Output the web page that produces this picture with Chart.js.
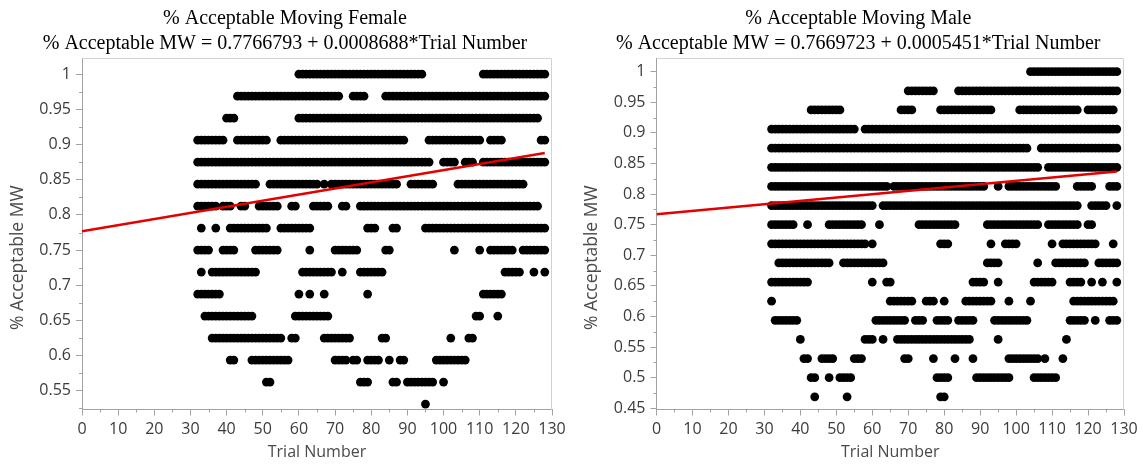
<!DOCTYPE html>
<html lang="en">
<head>
<meta charset="UTF-8">
<title>% Acceptable Moving</title>
<script src="https://cdn.jsdelivr.net/npm/chart.js"></script>
<style>
  html, body { margin: 0; padding: 0; background: #fff; }
  body { width: 1143px; height: 465px; position: relative; overflow: hidden; }
  canvas { position: absolute; top: 0; }
  #femaleChart { left: 0; }
  #maleChart { left: 574px; }
</style>
</head>
<body>
<canvas id="femaleChart" width="570" height="465"></canvas>
<canvas id="maleChart" width="569" height="465"></canvas>

<script>
// Axis ticks
const xTicks = [0, 10, 20, 30, 40, 50, 60, 70, 80, 90, 100, 110, 120, 130];
const femaleYTicks = [0.55, 0.6, 0.65, 0.7, 0.75, 0.8, 0.85, 0.9, 0.95, 1];
const maleYTicks = [0.45, 0.5, 0.55, 0.6, 0.65, 0.7, 0.75, 0.8, 0.85, 0.9, 0.95, 1];

// Fitted lines (from the JMP output)
const femaleFit = { intercept: 0.7766793, slope: 0.0008688 };
const maleFit = { intercept: 0.7669723, slope: 0.0005451 };
const fitRange = [0, 128];

// Female: observed % acceptable levels and the trials where each level occurs
const femaleLevels = [1, 0.96875, 0.9375, 0.90625, 0.875, 0.84375, 0.8125, 0.78125,
  0.75, 0.71875, 0.6875, 0.65625, 0.625, 0.59375, 0.5625, 0.53125];
const femaleTrials = [
  [60,61,62,63,64,65,66,67,68,69,70,71,72,73,74,75,76,77,78,79,80,81,82,83,84,85,86,87,88,89,90,91,92,93,94,
   111,112,113,114,115,116,117,118,119,120,121,122,123,124,125,126,127,128],
  [43,44,45,46,47,48,49,50,51,52,53,54,55,56,57,58,59,60,61,62,63,64,65,66,67,68,69,70,71,
   75,76,77,78,
   84,85,86,87,88,89,90,91,92,93,94,95,96,97,98,99,100,101,102,103,104,105,106,107,108,109,110,
   111,112,113,114,115,116,117,118,119,120,121,122,123,124,125,126,127,128],
  [40,41,42,
   60,61,62,63,64,65,66,67,68,69,70,71,72,73,74,75,76,77,78,79,80,81,82,83,84,85,86,87,88,89,90,91,92,93,
   94,95,96,97,98,99,100,101,102,103,104,105,106,107,108,109,110,111,112,113,114,115,116,117,118,119,120,
   121,122,123,124,125,126],
  [32,33,34,35,36,37,38,39,
   43,44,45,46,47,48,49,50,51,
   55,56,57,58,59,60,61,62,63,64,65,66,67,68,69,70,71,72,73,74,75,76,77,78,79,80,81,82,83,84,85,86,87,88,89,
   96,97,98,99,100,101,102,103,104,105,106,107,108,109,110,
   113,114,115,116,
   127,128],
  [32,33,34,35,36,37,38,39,40,41,42,43,44,45,46,47,48,49,50,51,52,53,54,55,56,57,58,59,60,61,62,63,64,
   65,66,67,68,69,70,71,72,73,74,75,76,77,78,79,80,81,82,83,84,85,86,87,88,89,90,91,92,93,94,95,96,
   100,101,102,103,
   106,107,108,
   111,112,113,114,115,116,117,118,119,120,121,122,123,124,125,126,127,128],
  [32,33,34,35,36,37,38,39,40,41,42,43,44,45,46,47,48,
   52,53,54,55,56,57,58,59,60,61,62,63,64,65,
   67,
   69,70,71,72,73,74,75,76,77,78,79,80,81,82,83,84,85,86,87,
   91,92,93,94,95,96,97,
   104,105,106,107,108,109,110,111,112,113,114,115,116,117,118,119,120,121,122],
  [32,33,34,35,36,37,
   39,40,41,
   44,45,
   49,50,51,52,53,54,
   58,59,
   64,65,66,67,68,
   72,73,
   77,78,79,80,81,82,83,84,85,86,87,88,89,90,91,92,93,94,95,96,97,98,99,100,101,
   102,103,104,105,106,107,108,109,110,111,112,113,114,115,116,117,118,119,120,121,122,123,124,125,126],
  [33,
   37,
   41,42,43,44,45,46,47,48,49,50,51,
   55,56,57,58,59,60,61,62,63,
   79,80,81,
   86,87,
   95,96,97,98,99,100,101,102,103,104,105,106,107,108,109,110,111,
   112,113,114,115,116,117,118,119,120,121,122,123,124,125,126,127,128],
  [32,33,34,35,
   39,40,41,42,
   48,49,50,51,52,53,54,
   63,
   70,71,72,73,74,75,76,
   84,85,
   103,
   110,
   113,114,115,116,117,118,119,
   122,123,124,125,126,127,128],
  [33,
   36,37,38,39,40,41,42,43,44,45,46,47,48,
   61,62,63,64,65,66,67,68,69,
   72,
   77,78,79,80,81,82,83,
   117,118,119,120,121,
   125,
   128],
  [32,33,34,35,36,37,38,
   60,
   63,
   67,
   79,
   111,112,113,114,115,116],
  [34,35,36,37,38,39,40,41,42,43,44,45,46,47,
   59,60,61,62,63,64,65,66,67,68,
   109,110,
   115],
  [36,37,38,39,40,41,42,43,44,45,46,47,48,49,50,51,52,53,54,55,
   58,59,
   67,68,69,70,71,72,73,74,
   83,84,
   102,
   107,108],
  [41,42,
   47,48,49,50,51,52,53,54,55,56,57,
   70,71,72,73,
   75,76,
   79,80,81,82,
   85,
   88,89,
   98,99,100,101,102,103,104,105,106],
  [51,52,
   77,78,79,
   86,87,
   90,91,92,93,94,95,96,97,
   100],
  [95]
];

// Male: observed % acceptable levels and the trials where each level occurs
const maleLevels = [1, 0.96875, 0.9375, 0.90625, 0.875, 0.84375, 0.8125, 0.78125, 0.75,
  0.71875, 0.6875, 0.65625, 0.625, 0.59375, 0.5625, 0.53125, 0.5, 0.46875];
const maleTrials = [
  [104,105,106,107,108,109,110,111,112,113,114,115,116,117,118,119,120,121,122,123,124,125,126,127,128],
  [70,71,72,73,74,75,76,77,
   84,85,86,87,88,89,90,91,92,93,94,95,96,97,98,99,100,101,102,103,104,105,106,107,108,109,110,
   111,112,113,114,115,116,117,118,119,120,121,122,123,124,125,126,127,128],
  [43,44,45,46,47,48,49,50,51,
   68,69,70,71,
   79,80,81,82,83,84,85,86,87,88,89,90,91,92,93,
   101,102,103,104,105,106,107,108,109,110,111,112,113,114,115,116,117,
   120,121,122,123,124,125,126,127],
  [32,33,34,35,36,37,38,39,40,41,42,43,44,45,46,47,48,49,50,51,52,53,54,55,
   58,59,60,61,62,63,64,65,66,67,68,69,70,71,72,73,74,75,76,77,78,79,80,81,82,83,84,85,86,87,88,89,90,
   91,92,93,94,95,96,97,98,99,100,101,102,103,104,105,106,107,108,109,110,111,112,113,114,115,116,117,
   118,119,120,121,122,123,124,125,126,127,128],
  [32,33,34,35,36,37,38,39,40,41,42,43,44,45,46,47,48,49,50,51,52,53,54,55,56,57,58,59,60,61,62,63,64,
   65,66,67,68,69,70,71,72,73,74,75,76,77,78,79,80,81,82,83,84,85,86,87,88,89,90,91,92,93,94,95,96,97,
   98,99,100,101,102,103,
   107,108,109,110,111,112,113,114,115,116,117,118,119,120,121,122,123,124,125,126,127,128],
  [32,33,34,35,36,37,38,39,40,41,42,43,44,45,46,47,48,49,50,51,52,53,54,55,56,57,58,59,60,61,62,63,64,
   65,66,67,68,69,70,71,72,73,74,75,76,77,78,79,80,81,82,83,84,85,86,87,88,89,90,91,92,93,94,95,96,97,
   98,99,100,101,102,103,104,105,106,
   109,110,111,112,113,114,115,116,117,118,119,120,121,122,123,124,125,126,127,128],
  [32,33,34,35,36,37,38,39,40,41,42,43,44,45,46,47,48,49,50,51,52,53,54,55,56,57,58,59,60,61,62,63,64,
   66,67,68,69,70,71,72,73,74,75,76,77,78,79,80,81,82,83,84,85,86,87,88,89,90,91,
   95,
   98,99,100,101,102,103,104,105,106,107,108,109,110,111,
   117,118,119,120,121,
   126,127,128],
  [32,33,34,35,36,37,38,39,40,41,42,43,44,45,46,47,48,49,50,51,52,53,54,55,56,57,58,59,60,
   63,64,65,66,67,68,69,70,71,72,73,74,75,76,77,78,79,80,81,82,83,84,85,86,87,88,89,90,91,92,93,94,95,
   96,97,98,99,100,101,102,103,104,105,106,107,108,109,110,111,112,113,114,115,116,117,
   121,122,123,124,125,
   128],
  [32,33,34,35,36,37,38,
   42,
   48,49,50,51,52,53,54,55,56,57,
   62,
   73,74,75,76,77,78,79,80,81,82,83,
   92,93,94,95,96,97,98,99,100,101,102,103,104,105,106,
   109,110,111,112,113,114,115,116,117,
   120,121],
  [32,33,34,35,36,37,38,39,40,41,42,43,44,45,46,47,48,49,50,51,52,53,54,55,56,57,58,
   60,
   79,80,81,
   93,
   97,98,99,100,
   110,
   113,114,115,116,117,118,119,120,121,122,
   127],
  [34,35,36,37,38,39,40,41,42,43,44,45,46,47,48,
   52,53,54,55,56,57,58,59,60,61,62,63,
   92,93,94,95,
   106,
   111,112,113,114,115,116,117,118,119,
   123,124,125,126,127,128],
  [32,33,34,35,36,37,38,39,40,41,42,
   60,
   64,65,
   88,89,90,91,
   95,
   105,106,107,108,109,110,
   115,116,117,118,
   121,
   124,
   128],
  [32,
   65,66,67,68,69,70,71,
   75,76,77,
   80,
   86,87,88,89,90,91,92,93,
   98,
   104,
   116,117,118,119,120,121,122,123,124,125,126,127],
  [33,34,35,36,37,38,39,
   61,62,63,64,65,66,67,68,69,
   72,73,74,
   78,79,80,81,
   84,85,86,87,88,
   94,95,96,97,98,99,100,101,102,103,
   115,116,117,118,119,
   122,
   126,127,128],
  [40,
   58,59,60,
   63,
   67,68,69,70,71,72,73,74,75,76,77,78,79,80,81,82,83,84,85,86,87,
   95,
   114],
  [41,42,
   46,47,48,49,
   55,56,57,
   69,70,
   77,
   83,
   88,
   98,99,100,101,102,103,104,105,106,
   108,
   113],
  [43,44,
   48,
   51,52,53,54,
   78,79,80,81,
   89,90,91,92,93,94,95,96,97,98,
   105,106,107,108,109,110,111],
  [44,
   53,
   79,80]
];

const TICK_FONT = { family: 'Open Sans', size: 16 };
const AXIS_COLOR = '#a3a3a3';
const FRAME_COLOR = '#d2d2d2';

function toPoints(levels, trials) {
  const pts = [];
  levels.forEach((y, i) => trials[i].forEach(x => pts.push({ x: x, y: y })));
  return pts;
}

function fitPoints(fit) {
  return fitRange.map(x => ({ x: x, y: fit.intercept + fit.slope * x }));
}

// light frame on top/right, short minor ticks and the rotated y title
const axisExtras = {
  id: 'axisExtras',
  beforeDatasetsDraw(chart) {
    const { ctx, chartArea: a } = chart;
    ctx.save();
    ctx.strokeStyle = FRAME_COLOR;
    ctx.lineWidth = 1;
    ctx.beginPath();
    ctx.moveTo(Math.round(a.left) + 0.5, Math.round(a.top) + 0.5);
    ctx.lineTo(Math.round(a.right) - 0.5, Math.round(a.top) + 0.5);
    ctx.lineTo(Math.round(a.right) - 0.5, Math.round(a.bottom));
    ctx.stroke();
    ctx.restore();
  },
  afterDraw(chart, args, opts) {
    const { ctx, chartArea: a, scales } = chart;
    const xs = scales.x, ys = scales.y;
    ctx.save();
    ctx.strokeStyle = AXIS_COLOR;
    ctx.lineWidth = 1;
    ctx.beginPath();
    for (let i = 0; i < xTicks.length - 1; i++) {
      const px = Math.round(xs.getPixelForValue((xTicks[i] + xTicks[i + 1]) / 2)) + 0.5;
      ctx.moveTo(px, a.bottom);
      ctx.lineTo(px, a.bottom + 3);
    }
    const yt = opts.yTicks;
    const half = (yt[1] - yt[0]) / 2;
    const minors = yt.map(v => v - half).concat([yt[yt.length - 1] + half]);
    minors.forEach(v => {
      if (v <= ys.min || v >= ys.max) return;
      const py = Math.round(ys.getPixelForValue(v)) + 0.5;
      ctx.moveTo(a.left - 3, py);
      ctx.lineTo(a.left, py);
    });
    ctx.stroke();

    ctx.fillStyle = '#4a4a4a';
    ctx.font = '17.5px "Open Sans"';
    ctx.textAlign = 'center';
    ctx.textBaseline = 'middle';
    ctx.translate(18, (a.top + a.bottom) / 2 + 24);
    ctx.rotate(-Math.PI / 2);
    ctx.fillText('% Acceptable MW', 0, 0);
    ctx.restore();
  }
};

function makeChart(id, cfg) {
  const fitLabel = '% Acceptable MW = ' + cfg.fit.intercept.toFixed(7) + ' + ' +
    cfg.fit.slope.toFixed(7) + '*Trial Number';
  return new Chart(document.getElementById(id), {
    type: 'scatter',
    data: {
      datasets: [
        {
          data: fitPoints(cfg.fit),
          showLine: true,
          borderColor: '#e30000',
          borderWidth: 2.5,
          pointRadius: 0,
          order: 0
        },
        {
          data: toPoints(cfg.levels, cfg.trials),
          backgroundColor: '#000',
          borderWidth: 0,
          pointRadius: 4.4,
          order: 1
        }
      ]
    },
    options: {
      responsive: false,
      animation: false,
      events: [],
      layout: { padding: cfg.padding },
      plugins: {
        legend: { display: false },
        tooltip: { enabled: false },
        title: {
          display: true,
          text: [cfg.title, fitLabel],
          color: '#000',
          font: { family: 'Liberation Serif', size: 20, weight: 'normal', lineHeight: 1.25 },
          padding: { top: 6.5, bottom: 1.5 }
        },
        axisExtras: { yTicks: cfg.yTicks }
      },
      scales: {
        x: {
          type: 'linear',
          min: 0,
          max: 130,
          afterBuildTicks: s => { s.ticks = xTicks.map(v => ({ value: v })); },
          afterFit: s => { s.height = 55.5; s.paddingLeft = 0; s.paddingRight = 0; },
          grid: { drawOnChartArea: false, tickLength: 6, color: AXIS_COLOR },
          border: { color: AXIS_COLOR },
          ticks: { color: '#3c3c3c', font: TICK_FONT, padding: 4, maxRotation: 0, autoSkip: false },
          title: {
            display: true,
            text: 'Trial Number',
            color: '#4a4a4a',
            font: { family: 'Open Sans', size: 16 },
            padding: { top: 0, bottom: 3 }
          }
        },
        y: {
          type: 'linear',
          min: cfg.yMin,
          max: cfg.yMax,
          afterBuildTicks: s => { s.ticks = cfg.yTicks.map(v => ({ value: v })); },
          afterFit: s => { s.width = 64; s.paddingTop = 0; s.paddingBottom = 0; },
          grid: { drawOnChartArea: false, tickLength: 6, color: AXIS_COLOR },
          border: { color: AXIS_COLOR },
          ticks: {
            color: '#3c3c3c',
            font: TICK_FONT,
            padding: 5,
            autoSkip: false,
            callback: v => String(+v.toFixed(2))
          }
        }
      }
    },
    plugins: [axisExtras]
  });
}

makeChart('femaleChart', {
  title: '% Acceptable Moving Female',
  fit: femaleFit,
  levels: femaleLevels,
  trials: femaleTrials,
  yTicks: femaleYTicks,
  yMin: 0.5235,
  yMax: 1.023,
  padding: { left: 18, right: 18, top: 0, bottom: 0 }
});

makeChart('maleChart', {
  title: '% Acceptable Moving Male',
  fit: maleFit,
  levels: maleLevels,
  trials: maleTrials,
  yTicks: maleYTicks,
  yMin: 0.448,
  yMax: 1.0224,
  padding: { left: 18.5, right: 19, top: 0, bottom: 0 }
});
</script>
</body>
</html>
